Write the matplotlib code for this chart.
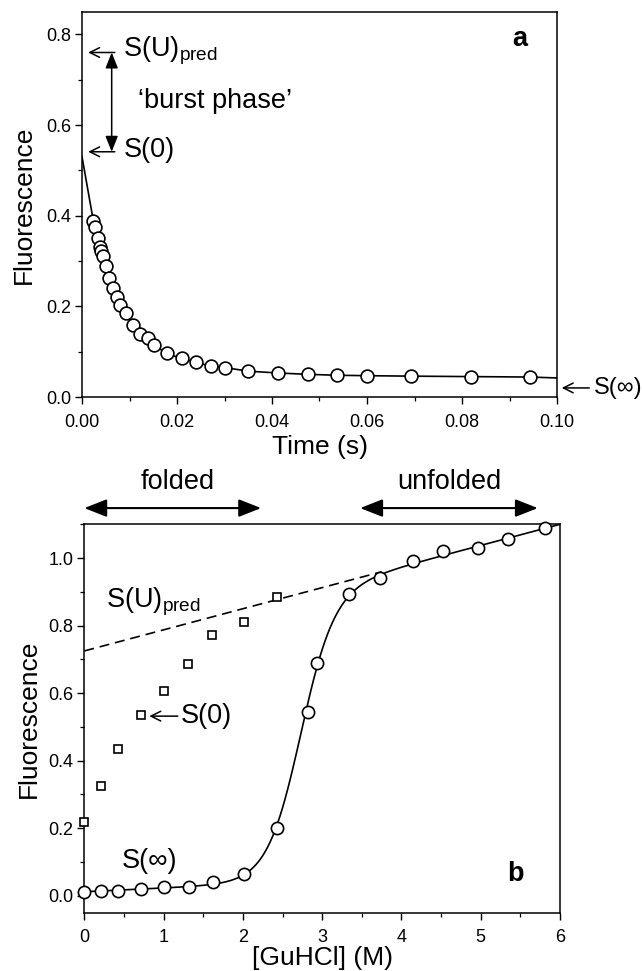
import numpy as np
import matplotlib
matplotlib.use("Agg")
import matplotlib.pyplot as plt
from matplotlib.ticker import MultipleLocator, FormatStrFormatter

plt.rcParams['font.family'] = ['Liberation Sans', 'DejaVu Sans']
plt.rcParams['mathtext.fontset'] = 'custom'
plt.rcParams['mathtext.rm'] = 'Liberation Sans'

# ---------------- Panel a data ----------------
time_s = [0.0024, 0.0028, 0.0033, 0.0037, 0.0041, 0.0044, 0.0050, 0.0057, 0.0065,
          0.0073, 0.0080, 0.0092, 0.0107, 0.0123, 0.0138, 0.0152, 0.0178, 0.0210,
          0.0241, 0.0271, 0.0302, 0.0350, 0.0412, 0.0475, 0.0536, 0.0601, 0.0693,
          0.0819, 0.0944]
fluor_a = [0.388, 0.374, 0.350, 0.332, 0.322, 0.311, 0.290, 0.263, 0.241,
           0.221, 0.203, 0.186, 0.159, 0.138, 0.131, 0.115, 0.096, 0.085,
           0.0765, 0.0676, 0.0647, 0.057, 0.053, 0.050, 0.048, 0.047, 0.046,
           0.045, 0.044]
S0_a = 0.53          # signal at t = 0
Send_a = 0.042       # signal at t = 0.1 s
SUpred_a = 0.760
S0_arrow_a = 0.541

# ---------------- Panel b data ----------------
gu_circ = [0.0, 0.21, 0.42, 0.71, 1.01, 1.32, 1.62, 2.02, 2.43, 2.82, 2.93, 3.34,
           3.73, 4.15, 4.52, 4.97, 5.35, 5.81]
f_circ = [0.012, 0.014, 0.015, 0.020, 0.027, 0.027, 0.042, 0.065, 0.200, 0.545,
          0.690, 0.895, 0.940, 0.990, 1.022, 1.030, 1.057, 1.088]
gu_sq = [0.0, 0.21, 0.42, 0.71, 1.00, 1.31, 1.61, 2.01, 2.43]
f_sq = [0.220, 0.325, 0.435, 0.535, 0.607, 0.685, 0.772, 0.810, 0.885]

# two-state fit parameters
aF, bF = 0.012, 0.011
aU, bU = 0.725, 0.0625
m_val, Cm = 4.7, 2.72
dash_end = 3.75

ANN = 19.5   # annotation font size
LAB = 19     # axis label font size

fig = plt.figure(figsize=(6.42, 9.71), dpi=100)

# ================= Panel a =================
ax1 = fig.add_axes([82/642, 1-397/971, (557-82)/642, (397-11.7)/971])
line_t = [0.0] + time_s + [0.1]
line_y = [S0_a] + fluor_a + [Send_a]
ax1.plot(line_t, line_y, color='black', lw=1.2, zorder=2)
ax1.plot(time_s, fluor_a, 'o', ms=9.2, mfc='white', mec='black', mew=1.2, zorder=3)
ax1.set_xlim(0, 0.10)
ax1.set_ylim(0, 0.85)
ax1.xaxis.set_major_locator(MultipleLocator(0.02))
ax1.xaxis.set_minor_locator(MultipleLocator(0.01))
ax1.yaxis.set_major_locator(MultipleLocator(0.2))
ax1.yaxis.set_minor_locator(MultipleLocator(0.1))
ax1.xaxis.set_major_formatter(FormatStrFormatter('%.2f'))
ax1.yaxis.set_major_formatter(FormatStrFormatter('%.1f'))
ax1.set_xlabel('Time (s)', fontsize=LAB, labelpad=3)
ax1.set_ylabel('Fluorescence', fontsize=LAB, labelpad=7)

hw = dict(arrowstyle='->,head_length=0.7,head_width=0.35', lw=1.1, color='black',
          shrinkA=0, shrinkB=0, mutation_scale=10)
ax1.annotate('', xy=(0.0013, SUpred_a), xytext=(0.0069, SUpred_a), arrowprops=hw,
             annotation_clip=False)
ax1.annotate('', xy=(0.0013, S0_arrow_a), xytext=(0.0069, S0_arrow_a), arrowprops=hw,
             annotation_clip=False)
ax1.annotate('', xy=(0.00625, SUpred_a), xytext=(0.00625, S0_arrow_a),
             arrowprops=dict(arrowstyle='<|-|>,head_length=0.95,head_width=0.38',
                             lw=1.1, color='black', shrinkA=0, shrinkB=0,
                             mutation_scale=10))
ax1.text(0.0087, 0.764, r'S(U)$_\mathregular{pred}$', fontsize=ANN, va='center', ha='left')
ax1.text(0.0118, 0.652, '\u2018burst phase\u2019', fontsize=ANN, va='center', ha='left')
ax1.text(0.0087, 0.545, 'S(0)', fontsize=ANN, va='center', ha='left')
ax1.text(0.0922, 0.79, 'a', fontsize=ANN, fontweight='bold', va='center', ha='center')
ax1.annotate('', xy=(0.1010, 0.02), xytext=(0.1068, 0.02), arrowprops=hw,
             annotation_clip=False)
ax1.text(0.1077, 0.02, 'S(\u221e)', fontsize=17, va='center', ha='left', clip_on=False)

# ================= Panel b =================
ax2 = fig.add_axes([84.3/642, 1-912.7/971, (560-84.3)/642, (912.7-524.3)/971])
xx = np.linspace(0, 6, 400)
K = np.exp(m_val*(xx - Cm))
yy = (aF + bF*xx + (aU + bU*xx)*K)/(1 + K)
ax2.plot(xx, yy, color='black', lw=1.2, zorder=2)
xd = np.linspace(0, dash_end, 50)
ax2.plot(xd, aU + bU*xd, color='black', lw=1.2, dashes=(6, 3.5), zorder=2)
ax2.plot(gu_circ, f_circ, 'o', ms=8.8, mfc='white', mec='black', mew=1.2, zorder=3,
         clip_on=False)
ax2.plot(gu_sq, f_sq, 's', ms=6.3, mfc='white', mec='black', mew=1.2, zorder=3,
         clip_on=False)
ax2.set_xlim(0, 6)
ax2.set_ylim(-0.05, 1.10)
ax2.xaxis.set_major_locator(MultipleLocator(1))
ax2.xaxis.set_minor_locator(MultipleLocator(0.5))
ax2.yaxis.set_major_locator(MultipleLocator(0.2))
ax2.yaxis.set_minor_locator(MultipleLocator(0.1))
ax2.yaxis.set_major_formatter(FormatStrFormatter('%.1f'))
ax2.set_xlabel('[GuHCl] (M)', fontsize=LAB, labelpad=0)
ax2.set_ylabel('Fluorescence', fontsize=LAB, labelpad=5)

ax2.text(0.27, 0.87, r'S(U)$_\mathregular{pred}$', fontsize=ANN, va='center', ha='left')
ax2.annotate('', xy=(0.82, 0.532), xytext=(1.18, 0.532), arrowprops=hw)
ax2.text(1.22, 0.532, 'S(0)', fontsize=ANN, va='center', ha='left')
ax2.text(0.47, 0.104, 'S(\u221e)', fontsize=ANN, va='center', ha='left')
ax2.text(5.44, 0.065, 'b', fontsize=ANN, fontweight='bold', va='center', ha='center')

dbl = dict(arrowstyle='<|-|>,head_length=1.37,head_width=0.54', lw=1.5, color='black',
           shrinkA=0, shrinkB=0, mutation_scale=10)
ax2.annotate('', xy=(0.0, 1.148), xytext=(2.23, 1.148), arrowprops=dbl,
             annotation_clip=False)
ax2.annotate('', xy=(3.48, 1.148), xytext=(5.72, 1.148), arrowprops=dbl,
             annotation_clip=False)
ax2.text(1.18, 1.225, 'folded', fontsize=ANN, va='center', ha='center', clip_on=False)
ax2.text(4.60, 1.225, 'unfolded', fontsize=ANN, va='center', ha='center', clip_on=False)

for ax in (ax1, ax2):
    for sp in ax.spines.values():
        sp.set_linewidth(1.1)
    ax.tick_params(which='major', direction='out', length=5, width=1.0,
                   labelsize=13, pad=3)
    ax.tick_params(which='minor', direction='out', length=3, width=0.9)
    ax.tick_params(axis='x', which='major', pad=7)

fig.savefig('out.png', dpi=100)
